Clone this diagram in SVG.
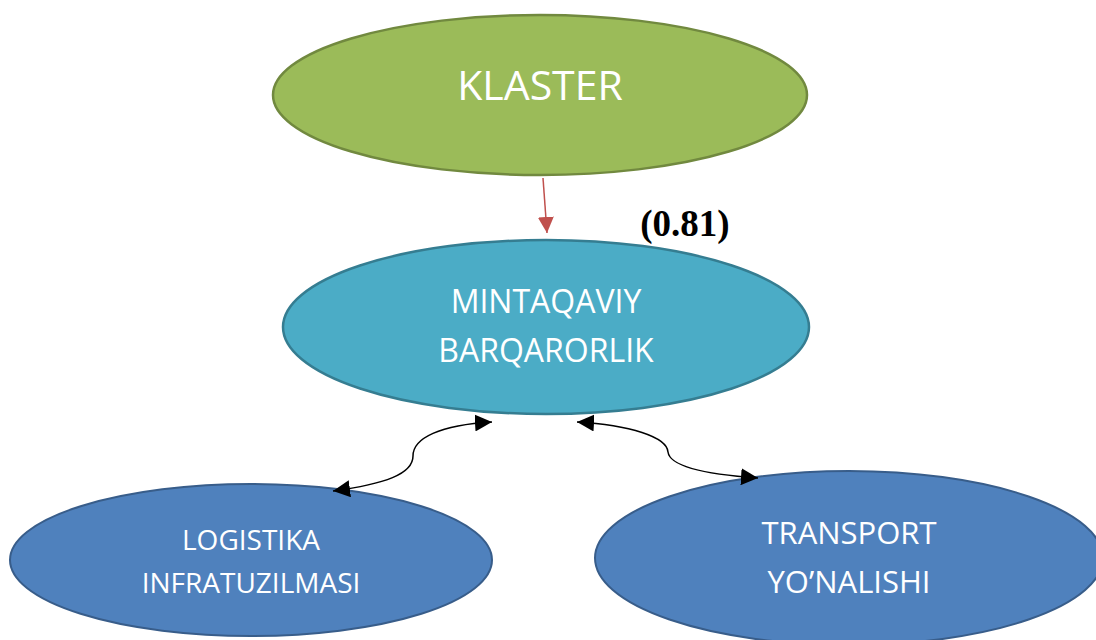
<svg xmlns="http://www.w3.org/2000/svg" width="1096" height="640" viewBox="0 0 1096 640">
  <style>
    .lbl { font-family: "Open Sans", "Noto Sans", sans-serif; fill: #ffffff; text-anchor: middle; }
    .green { fill: #9BBB59; stroke: #71893F; stroke-width: 2.5; }
    .teal { fill: #4BACC6; stroke: #357D91; stroke-width: 2.5; }
    .blue { fill: #4F81BD; stroke: #385D8A; stroke-width: 2; }
    .link { fill: none; stroke: #000000; stroke-width: 1.5; }
  </style>
  <defs>
    <marker id="headRed" viewBox="0 0 10 10" refX="10" refY="5" markerWidth="16" markerHeight="16" markerUnits="userSpaceOnUse" orient="auto">
      <path d="M0,0 L10,5 L0,10 Z" fill="#C0504D"/>
    </marker>
    <marker id="headEnd" viewBox="0 0 10 10" refX="10" refY="5" markerWidth="17" markerHeight="17" markerUnits="userSpaceOnUse" orient="auto">
      <path d="M0,0 L10,5 L0,10 Z" fill="#000000"/>
    </marker>
    <marker id="headStart" viewBox="0 0 10 10" refX="0" refY="5" markerWidth="17" markerHeight="17" markerUnits="userSpaceOnUse" orient="auto">
      <path d="M10,0 L0,5 L10,10 Z" fill="#000000"/>
    </marker>
  </defs>

  <g id="klaster">
    <ellipse class="green" cx="540" cy="95" rx="267" ry="80"/>
    <text class="lbl" x="540" y="100" font-size="41">KLASTER</text>
  </g>

  <g id="mintaqaviy">
    <ellipse class="teal" cx="546" cy="327" rx="263" ry="87"/>
    <text class="lbl" x="546" y="313" font-size="32">MINTAQAVIY</text>
    <text class="lbl" x="546" y="362" font-size="32">BARQARORLIK</text>
  </g>

  <g id="logistika">
    <ellipse class="blue" cx="251" cy="560" rx="241" ry="76"/>
    <text class="lbl" x="251" y="550" font-size="28">LOGISTIKA</text>
    <text class="lbl" x="251" y="593" font-size="28">INFRATUZILMASI</text>
  </g>

  <g id="transport">
    <ellipse class="blue" cx="849" cy="558" rx="254" ry="87"/>
    <text class="lbl" x="849" y="544" font-size="31">TRANSPORT</text>
    <text class="lbl" x="849" y="593" font-size="31">YO’NALISHI</text>
  </g>

  <g id="coefficient">
    <text x="685" y="236" font-family="'Liberation Serif', serif" font-weight="bold" font-size="37" text-anchor="middle" fill="#000000">(0.81)</text>
  </g>

  <g id="connectors">
    <line x1="543" y1="178" x2="547" y2="233" stroke="#C0504D" stroke-width="1.5" marker-end="url(#headRed)"/>
    <path class="link" d="M 333 491 C 385 484, 413 474, 413 456 C 413 438, 440 425, 492 422" marker-start="url(#headStart)" marker-end="url(#headEnd)"/>
    <path class="link" d="M 577 422 C 630 425, 667 437, 668 452 C 670 468, 715 475, 758 478" marker-start="url(#headStart)" marker-end="url(#headEnd)"/>
  </g>
</svg>
